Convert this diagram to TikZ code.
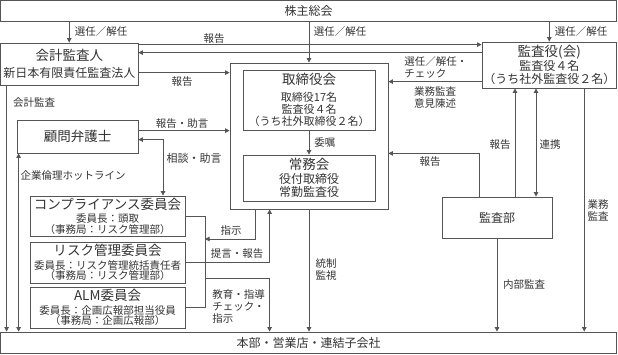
\documentclass[tikz,border=0pt]{standalone}
\usepackage{fontspec}
\setmainfont{Noto Sans CJK JP}
\usetikzlibrary{arrows.meta}
\definecolor{edgegray}{HTML}{555555}
\definecolor{inkgray}{HTML}{333333}
\newcommand\fbig{\fontsize{13.5}{16}\selectfont}
\newcommand\fmid{\fontsize{12}{14}\selectfont}
\newcommand\fsml{\fontsize{10.5}{12}\selectfont}
\tikzset{
  px/.style={x=1pt,y=-1pt,line width=.8pt,font=\fsml,text=inkgray},
  box/.style={draw=edgegray,inner sep=0pt,align=center},
  ln/.style={draw=edgegray},
  arr/.style={draw=edgegray,-{Triangle[length=4.5pt,width=4.5pt]}},
  arrs/.style={draw=edgegray,{Triangle[length=4.5pt,width=4.5pt]}-{Triangle[length=4.5pt,width=4.5pt]}},
  lbl/.style={inner sep=0pt,align=center},
}

\begin{document}
\begin{tikzpicture}[px]
  \useasboundingbox (0,0) rectangle (618,354);
  % boxes
  \node[box,minimum width=616pt,minimum height=20.5pt,font=\fmid] (soukai) at (308.5,10.75) {株主総会};
  \node[box,minimum width=616pt,minimum height=21.5pt,font=\fmid] (honbu) at (308.5,342.75) {本部・営業店・連結子会社};
  \node[box,minimum width=137.5pt,minimum height=42pt,font=\fontsize{12}{16.5}\selectfont] (kaikei) at (69.25,64) {{\fbig 会計監査人}\\新日本有限責任監査法人};
  \node[box,minimum width=134.5pt,minimum height=46pt,font=\fontsize{12}{12.5}\selectfont] (kansayaku) at (549.25,65) {{\fbig 監査役(会)}\\監査役４名\\（うち社外監査役２名）};
  \node[box,minimum width=158pt,minimum height=146pt] (torigroup) at (309,136) {};
  \node[box,minimum width=132pt,minimum height=60pt,font=\fontsize{11}{11.8}\selectfont] (torishimari) at (309,100) {{\fbig 取締役会}\\[5pt]取締役17名\\監査役４名\\（うち社外取締役２名）};
  \node[box,minimum width=132pt,minimum height=46pt,font=\fontsize{12}{13.5}\selectfont] (joumu) at (309,178) {{\fbig 常務会}\\役付取締役\\常勤監査役};
  \node[box,minimum width=121pt,minimum height=33pt,font=\fbig] (komon) at (77.5,136.5) {顧問弁護士};
  \node[box,minimum width=155pt,minimum height=40pt,font=\fontsize{10.5}{10.5}\selectfont] (comp) at (107.5,216) {{\fbig コンプライアンス委員会}\\[3pt]委員長：頭取\\（事務局：リスク管理部）};
  \node[box,minimum width=155pt,minimum height=41pt,font=\fontsize{10.5}{10.5}\selectfont] (risk) at (107.5,262.5) {{\fbig リスク管理委員会}\\[3pt]委員長：リスク管理統括責任者\\（事務局：リスク管理部）};
  \node[box,minimum width=155pt,minimum height=41pt,font=\fontsize{10.5}{10.5}\selectfont] (alm) at (107.5,307.5) {{\fbig ALM委員会}\\[3pt]委員長：企画広報部担当役員\\（事務局：企画広報部）};
  \node[box,minimum width=110pt,minimum height=41pt,font=\fmid] (kansabu) at (497,217.5) {監査部};
  % top arrows
  \draw[arr] (kaikei.north |- soukai.south) -- (kaikei.north);
  \draw[arr] (soukai.south -| torigroup.north) -- (torigroup.north);
  \draw[arr] (soukai.south -| kansayaku.north) -- (kansayaku.north);
  \node[lbl] (l-sen1) at (101,32) {選任／解任};
  \node[lbl] (l-sen2) at (340,32) {選任／解任};
  \node[lbl] (l-sen3) at (581,32) {選任／解任};
  % auditor lines
  \draw[arr] ([yshift=-2pt]kaikei.north east) -- ([yshift=-3pt]kansayaku.north west);
  \draw[arr] ([yshift=-11pt]kansayaku.north west) -- ([yshift=-10pt]kaikei.north east);
  \node[lbl] (l-hok1) at (214,39) {報告};
  \draw[arr] ([yshift=-30pt]kaikei.north east) -- ([yshift=-30pt]kaikei.north east -| torigroup.west);
  \node[lbl] (l-hok2) at (182,82) {報告};
  \draw[arr] ([yshift=-40pt]kansayaku.north west) -- ([yshift=-40pt]kansayaku.north west -| torigroup.east);
  \node[lbl,align=left,anchor=west] (l-check) at (404,67) {選任／解任・\\チェック};
  \node[lbl] (l-gyomu) at (435,97.5) {業務監査\\意見陳述};
  \draw[arr] (torishimari) -- (joumu);
  \node[lbl,anchor=west] (l-ishoku) at (314,143) {委嘱};
  % lawyer
  \draw[arr] ([yshift=-11pt]komon.north east) -- ([yshift=-11pt]komon.north east -| torigroup.west);
  \node[lbl] (l-jogen) at (182,124) {報告・助言};
  \draw[arrs] ([yshift=-20pt]komon.north east) -| ([xshift=55.5pt]comp.north);
  \node[lbl,font=\fontsize{11}{12}\selectfont] (l-sodan) at (194,158) {相談・助言};
  % left lines
  \draw[arr] ([xshift=6.5pt]kaikei.south west) -- ([xshift=6.5pt]kaikei.south west |- honbu.north);
  \node[lbl] (l-kaikei) at (34,103) {会計監査};
  \draw[arrs] ([xshift=2pt]komon.south west) -- ([xshift=2pt]komon.south west |- honbu.north);
  \node[lbl] (l-hotline) at (73,175) {企業倫理ホットライン};
  % committees
  \coordinate (bust) at (205,216);
  \coordinate (busb) at (205,307.5);
  \coordinate (siji) at (205,239);
  \coordinate (kyo) at (205,278);
  \draw[ln] (comp.east) -- (bust) -- (busb) -- (alm.east);
  \draw[arr] ([xshift=26pt]torigroup.south west) |- (siji);
  \node[lbl] (l-siji) at (231,231) {指示};
  \draw[arr] (risk.east) -| ([xshift=40pt]torigroup.south west);
  \node[lbl] (l-teigen) at (237,254) {提言・報告};
  \draw[arr] (kyo) -| ([xshift=40pt]torigroup.south west |- honbu.north);
  \node[lbl,align=left,anchor=west] (l-kyoiku) at (212,306) {教育・指導\\チェック・\\指示};
  \draw[arr] (torigroup.south) -- (torigroup.south |- honbu.north);
  \node[lbl] (l-tosei) at (326,269.5) {統制\\監視};
  % audit dept
  \draw[arr] ([xshift=-18pt]kansabu.north) |- ([yshift=56pt]torigroup.south east);
  \node[lbl] (l-hok3) at (430,162) {報告};
  \draw[arr] ([xshift=18pt]kansabu.north) -- ([xshift=18pt]kansabu.north |- kansayaku.south);
  \node[lbl] (l-hok4) at (500,145) {報告};
  \draw[arrs] ([xshift=39pt]kansabu.north) -- ([xshift=39pt]kansabu.north |- kansayaku.south);
  \node[lbl] (l-renkei) at (550,145) {連携};
  \draw[arr] ([xshift=35pt]kansayaku.south) -- ([xshift=35pt]kansayaku.south |- honbu.north);
  \node[lbl] (l-gyokan) at (598,210.5) {業務\\監査};
  \draw[arr] (kansabu.south) -- (kansabu.south |- honbu.north);
  \node[lbl] (l-naibu) at (524,285) {内部監査};
\end{tikzpicture}
\end{document}
